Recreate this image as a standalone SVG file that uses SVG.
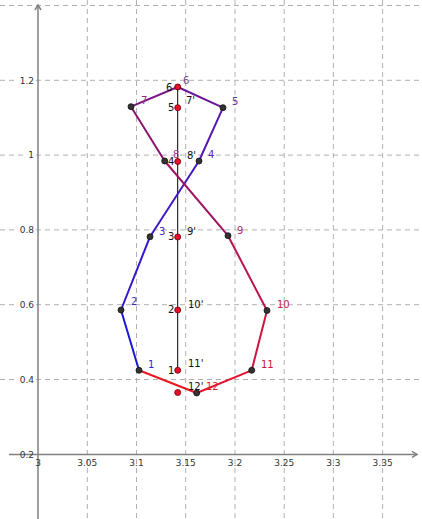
<svg xmlns="http://www.w3.org/2000/svg" width="422" height="519" viewBox="0 0 422 519">
<style>
.grid{stroke:#b0b0b0;stroke-width:1;stroke-dasharray:5,4;fill:none}
.axis{stroke:#808080;stroke-width:1.5;fill:none}
.tick{font-family:"DejaVu Sans",sans-serif;font-size:9px;fill:#333}
.lbl{font-family:"DejaVu Sans",sans-serif;font-size:10px}
.edge{stroke-width:2;fill:none;stroke-linecap:round}
.bp{fill:#333;stroke:#111;stroke-width:0.8}
.rp{fill:#e8102a;stroke:#600;stroke-width:0.8}
</style>
<rect width="422" height="519" fill="#fff"/>
<g id="grid">
<line class="grid" x1="87.3" y1="0" x2="87.3" y2="519"/>
<line class="grid" x1="136.5" y1="0" x2="136.5" y2="519"/>
<line class="grid" x1="185.7" y1="0" x2="185.7" y2="519"/>
<line class="grid" x1="235" y1="0" x2="235" y2="519"/>
<line class="grid" x1="284.2" y1="0" x2="284.2" y2="519"/>
<line class="grid" x1="333.4" y1="0" x2="333.4" y2="519"/>
<line class="grid" x1="382.6" y1="0" x2="382.6" y2="519"/>
<line class="grid" x1="0" y1="5.5" x2="422" y2="5.5"/>
<line class="grid" x1="0" y1="80.3" x2="422" y2="80.3"/>
<line class="grid" x1="0" y1="155.1" x2="422" y2="155.1"/>
<line class="grid" x1="0" y1="229.9" x2="422" y2="229.9"/>
<line class="grid" x1="0" y1="304.7" x2="422" y2="304.7"/>
<line class="grid" x1="0" y1="379.5" x2="422" y2="379.5"/>
</g>
<g id="axes">
<line class="axis" x1="38" y1="6" x2="38" y2="519"/>
<path class="axis" d="M35,10 L38,5 L41,10" stroke-width="1"/>
<line class="axis" x1="9" y1="454.4" x2="417" y2="454.4"/>
<path class="axis" d="M412,451.4 L417,454.4 L412,457.4" stroke-width="1"/>
<g class="tick">
<rect x="18" y="75" width="17" height="10" fill="#fff"/>
<text x="34" y="83.5" text-anchor="end">1.2</text>
<rect x="27" y="150" width="8" height="10" fill="#fff"/>
<text x="34" y="158.3" text-anchor="end">1</text>
<rect x="18" y="225" width="17" height="10" fill="#fff"/>
<text x="34" y="233.1" text-anchor="end">0.8</text>
<rect x="18" y="300" width="17" height="10" fill="#fff"/>
<text x="34" y="307.9" text-anchor="end">0.6</text>
<rect x="18" y="374" width="17" height="10" fill="#fff"/>
<text x="34" y="382.7" text-anchor="end">0.4</text>
<text x="34" y="457.6" text-anchor="end">0.2</text>
<text x="38" y="466" text-anchor="middle">3</text>
<text x="87.3" y="466" text-anchor="middle">3.05</text>
<text x="136.5" y="466" text-anchor="middle">3.1</text>
<text x="185.7" y="466" text-anchor="middle">3.15</text>
<text x="235" y="466" text-anchor="middle">3.2</text>
<text x="284.2" y="466" text-anchor="middle">3.25</text>
<text x="333.4" y="466" text-anchor="middle">3.3</text>
<text x="382.6" y="466" text-anchor="middle">3.35</text>
</g>
</g>
<g id="connectors">
<line x1="177.7" y1="87" x2="177.7" y2="370.3" stroke="#000" stroke-width="1"/>
<line class="edge" x1="139" y1="370.3" x2="121" y2="310" stroke="#1a1ad8"/>
<line class="edge" x1="121" y1="310" x2="150" y2="236.7" stroke="#3018cc"/>
<line class="edge" x1="150" y1="236.7" x2="199" y2="161" stroke="#4418c0"/>
<line class="edge" x1="199" y1="161" x2="223" y2="107.7" stroke="#5a18b0"/>
<line class="edge" x1="223" y1="107.7" x2="177.7" y2="87" stroke="#6a1898"/>
<line class="edge" x1="177.7" y1="87" x2="131" y2="106.7" stroke="#7a1888"/>
<line class="edge" x1="131" y1="106.7" x2="164.7" y2="161" stroke="#8c1470"/>
<line class="edge" x1="164.7" y1="161" x2="228" y2="235.7" stroke="#a01462"/>
<line class="edge" x1="228" y1="235.7" x2="267" y2="310.5" stroke="#b81450"/>
<line class="edge" x1="267" y1="310.5" x2="251.7" y2="370.3" stroke="#cc1440"/>
<line class="edge" x1="251.7" y1="370.3" x2="196.7" y2="393" stroke="#e01430"/>
<line class="edge" x1="196.7" y1="393" x2="139" y2="370.3" stroke="#e81820"/>
</g>
<g id="points">
<circle id="p1" class="bp" cx="139" cy="370.3" r="3"/>
<circle id="p2" class="bp" cx="121" cy="310" r="3"/>
<circle id="p3" class="bp" cx="150" cy="236.7" r="3"/>
<circle id="p4" class="bp" cx="199" cy="161" r="3"/>
<circle id="p5" class="bp" cx="223" cy="107.7" r="3"/>
<circle id="p6" class="bp" cx="177.7" cy="87" r="2.5"/>
<circle id="p7" class="bp" cx="131" cy="106.7" r="3"/>
<circle id="p8" class="bp" cx="164.7" cy="161" r="3"/>
<circle id="p9" class="bp" cx="228" cy="235.7" r="3"/>
<circle id="p10" class="bp" cx="267" cy="310.5" r="3"/>
<circle id="p11" class="bp" cx="251.7" cy="370.3" r="3"/>
<circle id="p12" class="bp" cx="196.7" cy="393" r="3"/>
</g>
<g id="red-points">
<circle id="rp6" class="rp" cx="177.7" cy="87" r="3"/>
<circle id="rp5" class="rp" cx="177.7" cy="107.7" r="3"/>
<circle id="rp4" class="rp" cx="177.7" cy="161.5" r="3"/>
<circle id="rp3" class="rp" cx="177.7" cy="237" r="3"/>
<circle id="rp2" class="rp" cx="177.7" cy="310" r="3"/>
<circle id="rp1" class="rp" cx="177.7" cy="370.3" r="3"/>
<circle id="rp12" class="rp" cx="177.7" cy="392.5" r="3"/>
</g>
<g id="labels" class="lbl">
<text x="148" y="368" fill="#2828d8">1</text>
<text x="131" y="305" fill="#3a28cc">2</text>
<text x="159" y="235" fill="#4a28c0">3</text>
<text x="208" y="158" fill="#5a28b4">4</text>
<text x="232" y="105" fill="#6a3098">5</text>
<text x="183" y="84" fill="#705080">6</text>
<text x="141" y="104" fill="#8a3080">7</text>
<text x="173" y="158" fill="#b04080">8</text>
<text x="237" y="234" fill="#b02860">9</text>
<text x="277" y="308" fill="#c02040">10</text>
<text x="261" y="368" fill="#c01838">11</text>
<text x="206" y="390" fill="#d02828">12</text>
<g fill="#111">
<text x="166" y="91">6</text>
<text x="168" y="111">5</text>
<text x="168" y="165">4</text>
<text x="168" y="240">3</text>
<text x="168" y="313">2</text>
<text x="168" y="374">1</text>
<text x="186" y="104">7'</text>
<text x="187" y="159">8'</text>
<text x="187" y="235">9'</text>
<text x="188" y="308">10'</text>
<text x="188" y="367">11'</text>
<text x="188" y="390">12'</text>
</g>
</g>
</svg>
